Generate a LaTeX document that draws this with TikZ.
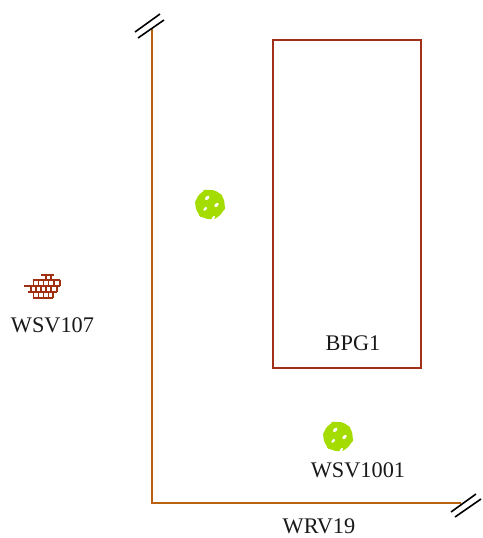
\documentclass[tikz,border=0pt]{standalone}
\usepackage{fontspec}
\setmainfont{Liberation Serif}
\definecolor{wallred}{HTML}{A03018}
\definecolor{roadbrown}{HTML}{B8620F}
\definecolor{treegreen}{HTML}{A4DC00}
\definecolor{brick}{HTML}{A03010}
\tikzset{
  lbl/.style={inner sep=0pt,font=\fontsize{22.3}{22.3}\selectfont,text=black!90},
  road/.style={draw=roadbrown,line width=1.6pt},
  hatch/.style={draw=black,line width=1.6pt},
  brickline/.style={draw=brick,line width=1.8pt},
}
\begin{document}
\begin{tikzpicture}[x=1pt,y=-1pt]
\useasboundingbox (0,0) rectangle (482,538);
\draw[draw=wallred,line width=1.6pt] (273,40) rectangle (421,368);
\draw[road] (152,29) -- (152,503) -- (461,503);
\draw[hatch] (135,32) -- (160,14);
\draw[hatch] (138,38) -- (164,20);
\draw[hatch] (451,512) -- (476,494);
\draw[hatch] (455,517) -- (481,499);
% trees
\foreach \cx/\cy in {210/204.5,338/436.5}{
  \fill[treegreen] (\cx,\cy) circle (14.6);
  \foreach \a/\r in {15/3.5,70/3,130/3.5,190/3,250/3.5,320/3}{
    \fill[treegreen] (\cx,\cy) ++(\a:12.2) circle (\r);
  }
  \fill[white,rotate around={45:(\cx-2.8,\cy-6.6)}] (\cx-2.8,\cy-6.6) ellipse (2.6 and 1.6);
  \fill[white,rotate around={45:(\cx+6.5,\cy+0.5)}] (\cx+6.5,\cy+0.5) ellipse (2.6 and 1.6);
  \fill[white,rotate around={45:(\cx-4.8,\cy+4.4)}] (\cx-4.8,\cy+4.4) ellipse (2.2 and 1.3);
  \fill[white,rotate around={60:(\cx+3.3,\cy+13.6)}] (\cx+3.3,\cy+13.6) ellipse (2.4 and 1.2);
}
% brick
\draw[brickline] (41,274.7) -- (54,274.7) (33,279.7) -- (60,279.7) (24,285.7) -- (60,285.7) (28,291.7) -- (57,291.7) (33,297.7) -- (53,297.7);
\draw[brickline] (45.7,274.7) -- (45.7,279.7) (50.7,274.7) -- (50.7,279.7)
 (33.5,279.7) -- (33.5,285.7) (38.5,279.7) -- (38.5,285.7) (43.5,279.7) -- (43.5,285.7) (48.5,279.7) -- (48.5,285.7) (54,279.7) -- (54,285.7) (60,279.7) -- (60,285.7)
 (30.7,285.7) -- (30.7,291.7) (36,285.7) -- (36,291.7) (40.7,285.7) -- (40.7,291.7) (45.7,285.7) -- (45.7,291.7) (50.7,285.7) -- (50.7,291.7) (56.7,285.7) -- (56.7,291.7)
 (33.5,291.7) -- (33.5,297.7) (38.5,291.7) -- (38.5,297.7) (43.5,291.7) -- (43.5,297.7) (48.5,291.7) -- (48.5,297.7) (52.7,291.7) -- (52.7,297.7);
\node[lbl,anchor=center] (wsv107) at (52.5,325.5) {WSV107};
\node[lbl,anchor=center] (bpg1) at (353,343) {BPG1};
\node[lbl,anchor=center] (wsv1001) at (358,470) {WSV1001};
\node[lbl,anchor=center] (wrv19) at (319,526.5) {WRV19};
\end{tikzpicture}
\end{document}
